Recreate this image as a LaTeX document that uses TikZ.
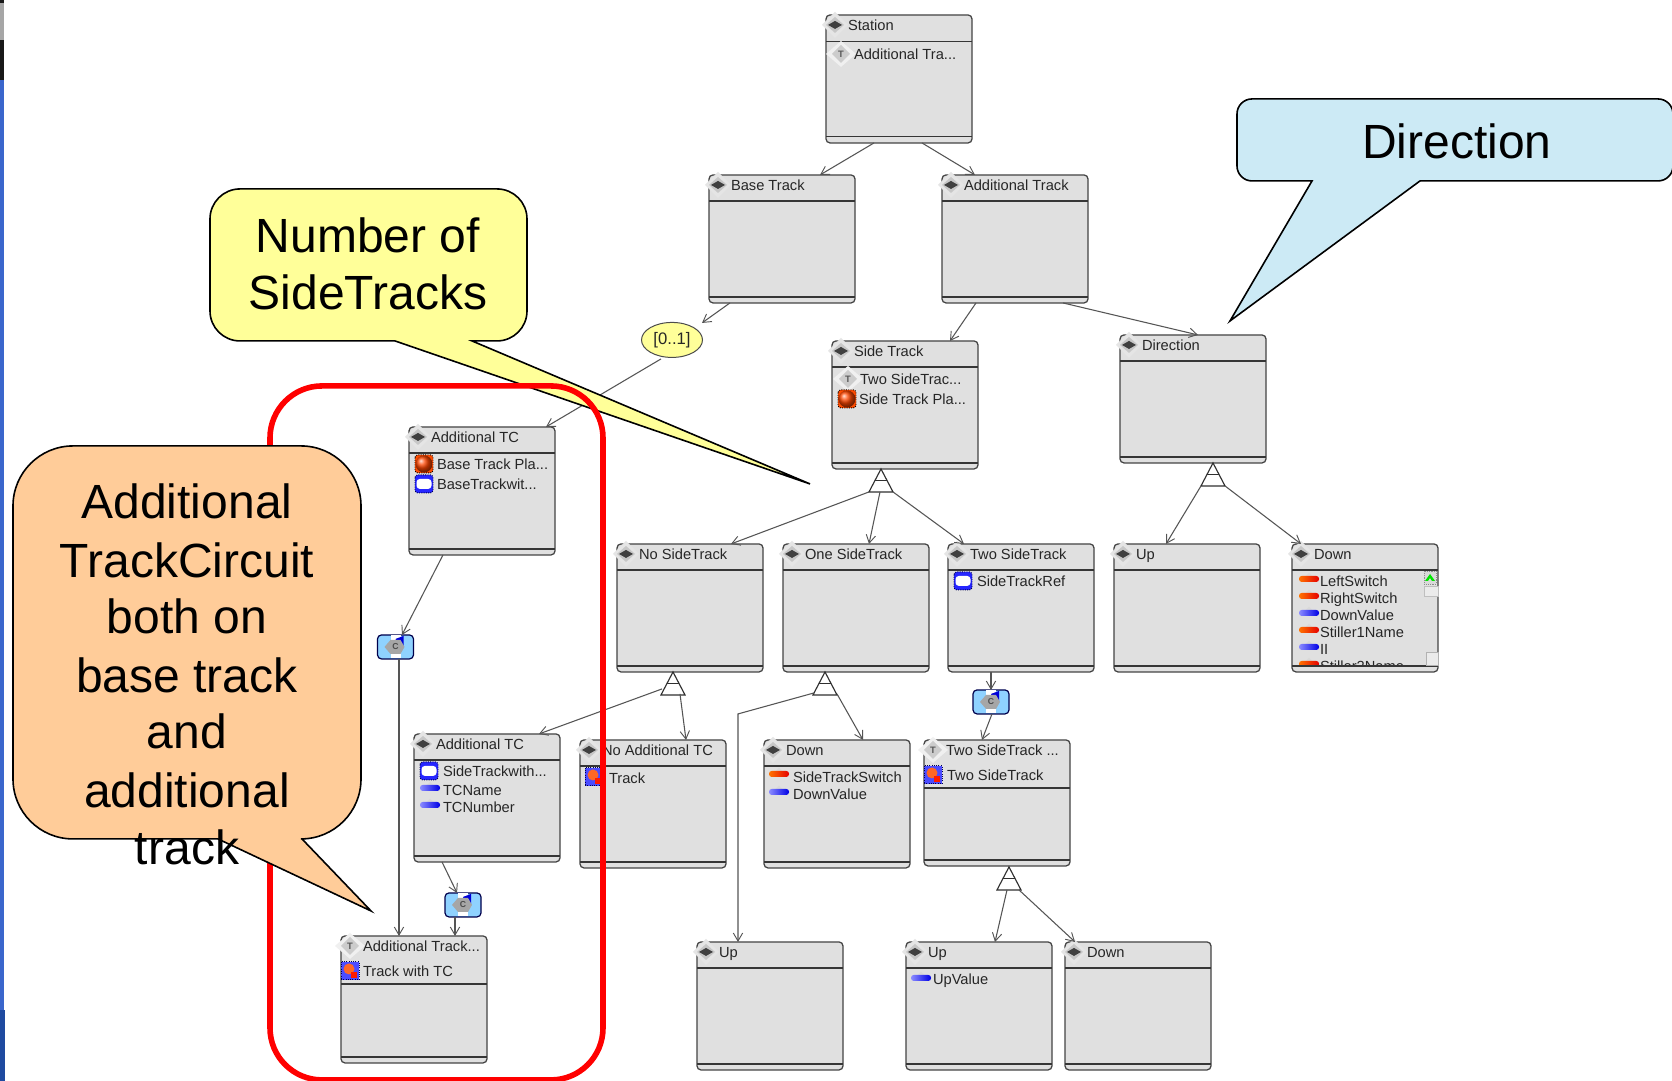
\documentclass[tikz,border=0pt]{standalone}
\usepackage{fontspec}
\setmainfont{Liberation Sans}
\usetikzlibrary{arrows.meta,calc,shapes.geometric}
\definecolor{boxfill}{HTML}{E0E0E0}
\definecolor{boxline}{HTML}{444444}
\definecolor{connline}{HTML}{555555}
\definecolor{calloutyellow}{HTML}{FFFF99}
\definecolor{calloutblue}{HTML}{CCEAF5}
\definecolor{calloutorange}{HTML}{FFCC99}
\definecolor{classblue}{HTML}{8FD2FF}
\definecolor{slideblue}{HTML}{3A66CC}
\definecolor{slidedark}{HTML}{1F4AA0}
\newcount\labc
\tikzset{
  x=0.75pt,y=-0.75pt,
  umlb/.style={draw=boxline,line width=0.95pt,fill=boxfill,rounded corners=3pt,inner sep=0pt,outer sep=0pt,minimum width=109.5pt,anchor=north west},
  hrule/.style={draw=boxline!80!black,line width=0.85pt},
  conn/.style={draw=connline,line width=0.8pt,-{Straight Barb[length=6pt,width=7pt,line width=0.7pt]}},
  lab/.style={anchor=base west,inner sep=0pt,outer sep=0pt,text=black!85,font=\fontsize{11}{13}\selectfont},
  bigtext/.style={anchor=base,inner sep=0pt,outer sep=0pt,text=black,font=\fontsize{36}{43}\selectfont},
  callout/.style={draw=black,line width=1.2pt,line join=miter},
  classicon/.style={draw=black!70!blue,line width=0.9pt,fill=classblue,rounded corners=3pt,minimum width=27pt,minimum height=18pt,inner sep=0pt,outer sep=0pt},
  inh/.style={draw=boxline!70!black,line width=0.85pt,fill=white},
}
% text label, y = vertical middle of the text
\newcommand{\lab}[3]{\global\advance\labc by 1 \node[lab] (l\the\labc) at (#1,{#2+6}) {#3};}
% icons
\newcommand{\hdia}[2]{%
  \fill[black!10] (#1-13,#2) -- (#1,#2-13) -- (#1+13,#2) -- (#1,#2+13) -- cycle;
  \fill[black!22] (#1-9,#2) -- (#1,#2-8) -- (#1+9,#2) -- (#1,#2+8) -- cycle;
  \fill[black!75] (#1-7,#2) -- (#1,#2-4) -- (#1+7,#2) -- (#1,#2+4) -- cycle;}
\newcommand{\tdia}[2]{%
  \fill[black!6] (#1-15,#2) -- (#1,#2-13) -- (#1+15,#2) -- (#1,#2+13) -- cycle;
  \fill[black!20] (#1-9,#2) -- (#1,#2-9) -- (#1+9,#2) -- (#1,#2+9) -- cycle;
  \node[inner sep=0pt,text=black!65,font=\fontsize{7}{8}\bfseries\selectfont] at (#1,#2) {T};}
\newcommand{\redball}[2]{%
  \draw[black,densely dotted,line width=0.7pt,fill=orange!60!red,rounded corners=2pt] (#1-9,#2-9) rectangle (#1+9,#2+9);
  \shade[ball color=orange!55!red] (#1,#2) circle[radius=8.5];}
\newcommand{\blueball}[2]{%
  \draw[black!70!blue,densely dotted,line width=0.7pt,fill=blue!85!white,rounded corners=2pt] (#1-9,#2-9) rectangle (#1+9,#2+9);
  \fill[white,rounded corners=2.5pt] (#1-7.5,#2-5) rectangle (#1+7.5,#2+5);}
\newcommand{\combo}[2]{%
  \draw[black!70!blue,densely dotted,line width=0.7pt,fill=blue!70!white] (#1-9,#2-9) rectangle (#1+9,#2+9);
  \fill[orange!60!red!85!white] (#1-1,#2-2) circle[radius=5.5];
  \fill[red!80!orange] (#1+1,#2+1) rectangle (#1+7,#2+7);}
\newcommand{\redpill}[2]{%
  \fill[black!15] (#1,#2-6) -- (#1+4,#2-2) -- (#1-4,#2-2) -- cycle;
  \shade[left color=orange!90!red,right color=red!90!black,rounded corners=2pt] (#1-10,#2-3) rectangle (#1+10,#2+3);}
\newcommand{\bluepill}[2]{%
  \fill[black!15] (#1,#2-6) -- (#1+4,#2-2) -- (#1-4,#2-2) -- cycle;
  \shade[left color=blue!45!white,right color=blue!90!black,rounded corners=2pt] (#1-10,#2-3) rectangle (#1+10,#2+3);}
% UML box: name, x, y, header height, icon (0 plain, 1 T), title, [height]
\newcommand{\umlbox}[7][128]{%
  \pgfmathsetmacro{\boxh}{#1*0.75}
  \node[umlb,minimum height=\boxh pt] (#2) at (#3,#4) {};
  \draw[hrule] ($(#2.north west)+(0,#5)$) -- ($(#2.north east)+(0,#5)$);
  \draw[hrule] ($(#2.south west)+(0,-6)$) -- ($(#2.south east)+(0,-6)$);
  \ifnum#6=0 \hdia{#3+9}{#4+10}\else\tdia{#3+9}{#4+10}\fi
  \lab{#3+22}{#4+10}{#7}}
% inheritance triangle, apex at x,y
\newcommand{\inhtri}[3]{%
  \coordinate (#1) at (#2,#3);
  \draw[inh] (#1) -- ($(#1)+(12,23)$) -- ($(#1)+(-12,23)$) -- cycle;
  \draw[inh] ($(#1)+(-6,11.5)$) -- ($(#1)+(6,11.5)$);}
% class icon
\newcommand{\clsicon}[3]{%
  \node[classicon] (#1) at (#2,#3) {};
  \fill[white] (#2-5,#3-12) rectangle (#2+5,#3+11);
  \fill[blue!85!black] (#2,#3-8) -- (#2+8,#3-11) -- (#2+8,#3-1) -- (#2+2,#3-2) -- cycle;
  \fill[black!35] (#2-11,#3) -- (#2-5,#3-7) -- (#2+5,#3-7) -- (#2+9,#3) -- (#2+5,#3+7) -- (#2-5,#3+7) -- cycle;
  \node[inner sep=0pt,text=black!70,font=\fontsize{6.5}{7}\bfseries\selectfont] at (#2,#3) {C};}
% callout: x0 y0 x1 y1 r tail1 tipx tipy tail2 fill
\newcommand{\calloutshape}[9]{%
  \draw[callout,fill=\calloutfill]
   ({#1+#5},#2) -- ({#3-#5},#2) arc[start angle=-90,end angle=0,radius=#5]
   -- (#3,{#4-#5}) arc[start angle=0,end angle=90,radius=#5]
   -- (#9,#4) -- (#7,#8) -- (#6,#4)
   -- ({#1+#5},#4) arc[start angle=90,end angle=180,radius=#5]
   -- (#1,{#2+#5}) arc[start angle=180,end angle=270,radius=#5] -- cycle;}
\begin{document}
\begin{tikzpicture}
\useasboundingbox (0,0) rectangle (1672,1081);
\clip (0,0) rectangle (1672,1081);
\fill[white] (0,0) rectangle (1672,1081);
% left edge of the slide
\fill[black!90] (0,0) rectangle (4,80);
\fill[black!35] (0,3) rectangle (4,40);
\fill[slideblue] (0,80) rectangle (4,1010);
\fill[slidedark] (0,1010) rectangle (5,1081);

\begin{scope}[yshift=-0.7pt]
% boxes
\umlbox{st}{826}{14}{27}{0}{Station}
\umlbox{bt}{709}{174}{26}{0}{Base Track}
\umlbox{at}{942}{174}{26}{0}{Additional Track}
\umlbox{sd}{832}{340}{26}{0}{Side Track}
\umlbox{dir}{1120}{334}{26}{0}{Direction}
\umlbox{tc}{409}{426}{26}{0}{Additional TC}
\umlbox{ns}{617}{543}{26}{0}{No SideTrack}
\umlbox{os}{783}{543}{26}{0}{One SideTrack}
\umlbox{ts}{948}{543}{26}{0}{Two SideTrack}
\umlbox{up}{1114}{543}{26}{0}{Up}
\umlbox{dn}{1292}{543}{26}{0}{Down}
\umlbox{tcb}{414}{733}{26}{0}{Additional TC}
\umlbox{na}{580}{739}{26}{0}{No Additional TC}
\umlbox{db}{764}{739}{26}{0}{Down}
\umlbox[126]{tst}{924}{739}{48}{1}{Two SideTrack ...}
\umlbox[127]{atk}{341}{935}{48}{1}{Additional Track...}
\umlbox{uc}{697}{941}{26}{0}{Up}
\umlbox{ud}{906}{941}{26}{0}{Up}
\umlbox{dd}{1065}{941}{26}{0}{Down}

% box contents
\tdia{841}{53} \lab{854}{53}{Additional Tra...}
\tdia{848}{378} \lab{860}{378}{Two SideTrac...}
\redball{847}{398} \lab{859}{398}{Side Track Pla...}
\redball{424}{463} \lab{437}{463}{Base Track Pla...}
\blueball{424}{483} \lab{437}{483}{BaseTrackwit...}
\blueball{963}{580} \lab{977}{580}{SideTrackRef}
\redpill{1309}{578} \lab{1320}{580}{LeftSwitch}
\redpill{1309}{595} \lab{1320}{597}{RightSwitch}
\bluepill{1309}{612} \lab{1320}{614}{DownValue}
\redpill{1309}{629} \lab{1320}{631}{Stiller1Name}
\bluepill{1309}{646} \lab{1320}{648}{II}
\begin{scope}
  \clip (1292,655) rectangle (1438,664);
  \redpill{1309}{663} \lab{1320}{665}{Stiller2Name}
\end{scope}
\draw[black!45,densely dotted,fill=black!15] (1424,570) rectangle (1436,583);
\fill[green!90!black] (1430,573) -- (1435,580) -- (1432,580) -- (1430,577) -- (1428,580) -- (1425,580) -- cycle;
\draw[black!25,fill=black!8] (1424,585) rectangle (1438,595);
\draw[black!30,fill=black!8] (1426,651) rectangle (1438,664);
\blueball{429}{770} \lab{443}{770}{SideTrackwith...}
\bluepill{430}{787} \lab{443}{789}{TCName}
\bluepill{430}{804} \lab{443}{806}{TCNumber}
\combo{594}{776} \lab{609}{777}{Track}
\redpill{779}{773} \lab{793}{776}{SideTrackSwitch}
\bluepill{779}{791} \lab{793}{793}{DownValue}
\combo{933}{774} \lab{947}{774}{Two SideTrack}
\combo{350}{970} \lab{363}{970}{Track with TC}
\bluepill{921}{977} \lab{933}{978}{UpValue}

% multiplicity
\node[ellipse,draw=black!70,line width=0.75pt,fill=calloutyellow,minimum width=45.75pt,minimum height=26.25pt,inner sep=0pt,text=black!85,font=\fontsize{12.5}{13}\selectfont] (el) at (672,339) {[0..1]\hspace{3pt}};

% triangles and class icons
\inhtri{ta}{881}{468}
\inhtri{tb}{1213}{462}
\inhtri{tc3}{673}{671}
\inhtri{td}{825}{671}
\inhtri{te}{1009}{866}
\clsicon{cla}{395.5}{646}
\clsicon{clb}{991}{701}
\clsicon{clc}{463}{904}

% connectors
\draw[conn] ($(st.south)+(-25,0)$) -- ($(bt.north)+(38,0)$);
\draw[conn] ($(st.south)+(23,0)$) -- ($(at.north)+(-40,0)$);
\draw[conn] ($(at.south)+(-39,0)$) -- ($(sd.north)+(45,0)$);
\draw[conn] ($(at.south)+(48,0)$) -- ($(dir.north)+(5,0)$);
\draw[conn] ($(bt.south)+(-52,0)$) -- ($(el.center)+(30,-17)$);
\draw[conn] ($(el.center)+(-11,19)$) -- ($(tc.north)+(64,0)$);
\draw[conn] ($(ta)+(-12,23)$) -- ($(ns.north)+(41,0)$);
\draw[conn] ($(ta)+(-1,23)$) -- ($(os.north)+(13,0)$);
\draw[conn] ($(ta)+(12,23)$) -- ($(ts.north)+(-57,0)$);
\draw[conn] ($(tb)+(-12,23)$) -- ($(up.north)+(-21,0)$);
\draw[conn] ($(tb)+(12,23)$) -- ($(dn.north)+(-64,0)$);
\draw[conn] ($(tc.south)+(-39,0)$) -- ($(cla.north)+(6.5,0)$);
\draw[conn] ($(cla.south)+(3.5,0)$) -- ($(atk.north)+(-15,0)$);
\draw[conn] ($(tc3)+(-11,17)$) -- ($(tcb.north)+(52,0)$);
\draw[conn] ($(tc3)+(7,22)$) -- ($(na.north)+(33,0)$);
\coordinate (bend) at (738,713);
\draw[conn] ($(td)+(-11,21)$) -- (bend) -- ($(uc.north)+(-32,0)$);
\draw[conn] ($(td)+(12,22)$) -- ($(db.north)+(26,0)$);
\draw[conn] ($(ts.south)+(-30,0)$) -- (clb.north);
\draw[conn] ($(clb.south)+(1,0)$) -- ($(tst.north)+(-15,0)$);
\draw[conn] ($(tcb.south)+(-45,0)$) -- ($(clc.north)+(-6,0)$);
\draw[conn] ($(clc.south)+(-8,0)$) -- ($(atk.north)+(41,0)$);
\draw[conn] ($(te)+(-2,23)$) -- ($(ud.north)+(16,0)$);
\draw[conn] ($(te)+(10,23)$) -- ($(dd.north)+(-63,0)$);

% yellow callout
\def\calloutfill{calloutyellow}
\calloutshape{210}{188}{527}{340}{30}{395}{810}{483}{472}
\node[bigtext] (numa) at (368,252) {Number of};
\node[bigtext] (numb) at (368,309) {SideTracks};

% red frame
\draw[red,line width=4.2pt,rounded corners=39pt] (270,385) rectangle (603,1079);

% blue callout
\def\calloutfill{calloutblue}
\calloutshape{1237}{98}{1673}{180}{15}{1312}{1230}{320}{1420}
\node[bigtext] (dirt) at (1457,158) {Direction};

% orange callout
\def\calloutfill{calloutorange}
\calloutshape{13}{445}{361}{838}{60}{218}{371}{910}{302}
\node[bigtext] (ora) at (187,518) {Additional};
\node[bigtext] (orb) at (187,577) {TrackCircuit};
\node[bigtext] (orc) at (187,633) {both on};
\node[bigtext] (ord) at (187,692) {base track};
\node[bigtext] (ore) at (187,748) {and};
\node[bigtext] (orf) at (187,807) {additional};
\node[bigtext] (org) at (187,864) {track};
\end{scope}
\end{tikzpicture}
\end{document}
